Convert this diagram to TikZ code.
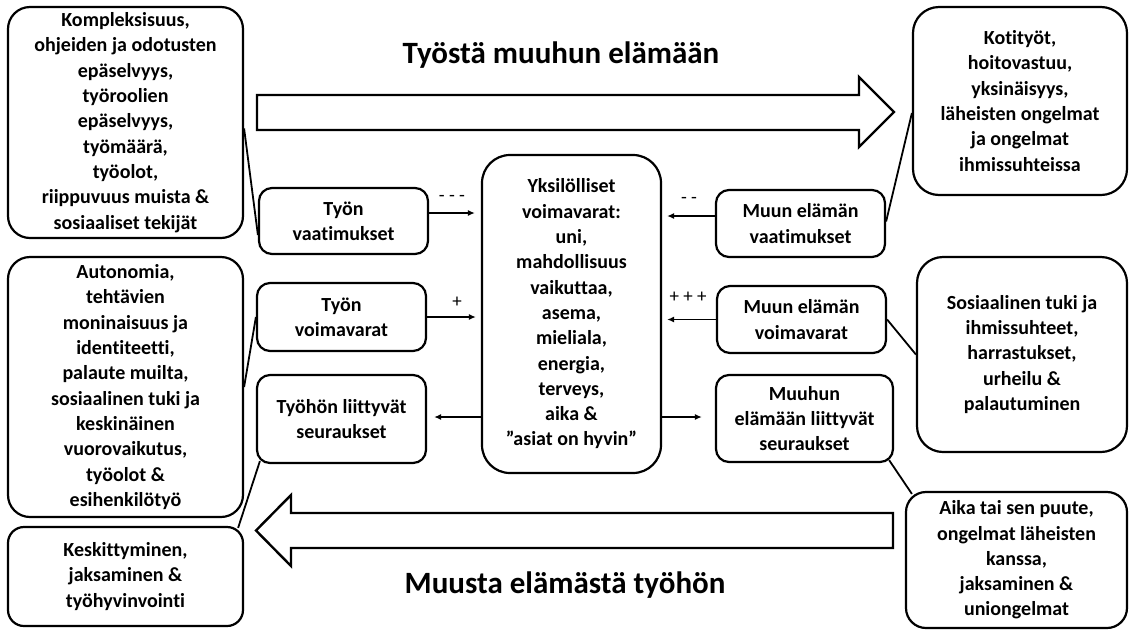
\documentclass[tikz,border=0pt]{standalone}
\usepackage{fontspec}
\setmainfont{Carlito}[Ligatures=NoCommon]
\usetikzlibrary{arrows.meta,calc}
\begin{document}
\begin{tikzpicture}[x=1pt,y=-1pt,
  box/.style={draw,line width=2.2pt,rounded corners=#1,align=center,inner sep=0pt,
     font=\bfseries\fontsize{20}{25.3}\selectfont},
  box/.default=22pt,
  big/.style={draw,line width=2.4pt,line join=miter},
  link/.style={line width=1.8pt},
  arr/.style={line width=1.8pt,-{Latex[length=7pt,width=6pt]}},
  sign/.style={font=\fontsize{19}{19}\selectfont,inner sep=0pt},
  title/.style={font=\bfseries\fontsize{31}{36}\selectfont,inner sep=0pt}]
\useasboundingbox (0,0) rectangle (1129,630);
% big arrows
\draw[big] (257,95) -- (859,95) -- (859,77) -- (894,112) -- (859,147) -- (859,130) -- (257,130) -- cycle;
\draw[big] (893,513) -- (291,513) -- (291,495) -- (256,530.5) -- (291,566) -- (291,548) -- (893,548) -- cycle;
\node[title] (t1) at (561,55) {Työstä muuhun elämään};
\node[title] (t2) at (565,585) {Muusta elämästä työhön};
% left boxes
\node[box, minimum width=235pt, minimum height=231pt] (b1) at (125.5,122.5)
 {Kompleksisuus,\\ohjeiden ja odotusten\\epäselvyys,\\työroolien\\epäselvyys,\\työmäärä,\\työolot,\\riippuvuus muista \&\\sosiaaliset tekijät};
\node[box, minimum width=235pt, minimum height=260pt] (b2) at (125.5,387)
 {Autonomia,\\tehtävien\\moninaisuus ja\\identiteetti,\\palaute muilta,\\sosiaalinen tuki ja\\keskinäinen\\vuorovaikutus,\\työolot \&\\esihenkilötyö};
\node[box=16pt, minimum width=235pt, minimum height=99pt] (b3) at (125.5,576.5)
 {Keskittyminen,\\jaksaminen \&\\työhyvinvointi};
% middle-left boxes
\node[box=13pt, minimum width=169pt, minimum height=66pt] (v1) at (343.5,221) {Työn\\vaatimukset};
\node[box=13pt, minimum width=169pt, minimum height=68pt] (r1) at (341.5,317) {Työn\\voimavarat};
\node[box=13pt, minimum width=169pt, minimum height=88pt] (s1) at (341.5,419) {Työhön liittyvät\\seuraukset};
% center
\node[box=28pt, minimum width=179pt, minimum height=318pt] (c) at (571.5,314)
 {Yksilölliset\\voimavarat:\\uni,\\mahdollisuus\\vaikuttaa,\\asema,\\mieliala,\\energia,\\terveys,\\aika \&\\”asiat on hyvin”};
% middle-right boxes
\node[box=13pt, minimum width=169pt, minimum height=67pt] (v2) at (800.5,223.5) {Muun elämän\\vaatimukset};
\node[box=13pt, minimum width=169pt, minimum height=67pt] (r2) at (801.5,319.5) {Muun elämän\\voimavarat};
\node[box=13pt, minimum width=177pt, minimum height=87pt] (s2) at (804.5,418.5) {Muuhun\\elämään liittyvät\\seuraukset};
% right boxes
\node[box=26pt, minimum width=214pt, minimum height=188pt] (b4) at (1020,101)
 {Kotityöt,\\hoitovastuu,\\yksinäisyys,\\läheisten ongelmat\\ja ongelmat\\ihmissuhteissa};
\node[box=26pt, minimum width=210pt, minimum height=195pt] (b5) at (1022,354.5)
 {Sosiaalinen tuki ja\\ihmissuhteet,\\harrastukset,\\urheilu \&\\palautuminen};
\node[box=20pt, minimum width=221pt, minimum height=136pt] (b6) at (1016.5,560)
 {Aika tai sen puute,\\ongelmat läheisten\\kanssa,\\jaksaminen \&\\uniongelmat};
% connecting lines
\draw[link] ([yshift=-6pt]b1.east) -- ([yshift=-14pt]v1.west);
\draw[link] (r1.west) -- (b2.east);
\draw[link] ([xshift=4pt,yshift=3pt]s1.south west) -- ([xshift=-6pt,yshift=-2pt]b3.north east);
\draw[link] ([yshift=-12pt]b4.west) -- ([yshift=2pt]v2.east);
\draw[link] (r2.east) -- (b5.west);
\draw[link] ([xshift=-5pt,yshift=3pt]s2.south east) -- ([xshift=7pt,yshift=-3pt]b6.north west);
% arrows
\draw[arr,shorten >=6pt] ([yshift=8pt]v1.east) -- ([yshift=8pt]v1.east -| c.west);
\draw[arr,shorten >=5pt] ([yshift=7.5pt]v2.west) -- ([yshift=7.5pt]v2.west -| c.east);
\draw[arr,shorten >=5pt] (r1.east) -- (r1.east -| c.west);
\draw[arr,shorten >=5pt] (r2.west) -- (r2.west -| c.east);
\draw[arr,shorten >=7pt] ([yshift=2pt]s1.east -| c.west) -- ([yshift=2pt]s1.east);
\draw[arr,shorten >=13pt] ([yshift=1.5pt]s2.west -| c.east) -- ([yshift=1.5pt]s2.west);
% signs
\node[sign] (m1) at (452,198) {- - -};
\node[sign] (m2) at (689,200) {- -};
\node[sign] (p1) at (457,302) {+};
\node[sign] (p2) at (688,297) {+ + +};
\end{tikzpicture}
\end{document}
